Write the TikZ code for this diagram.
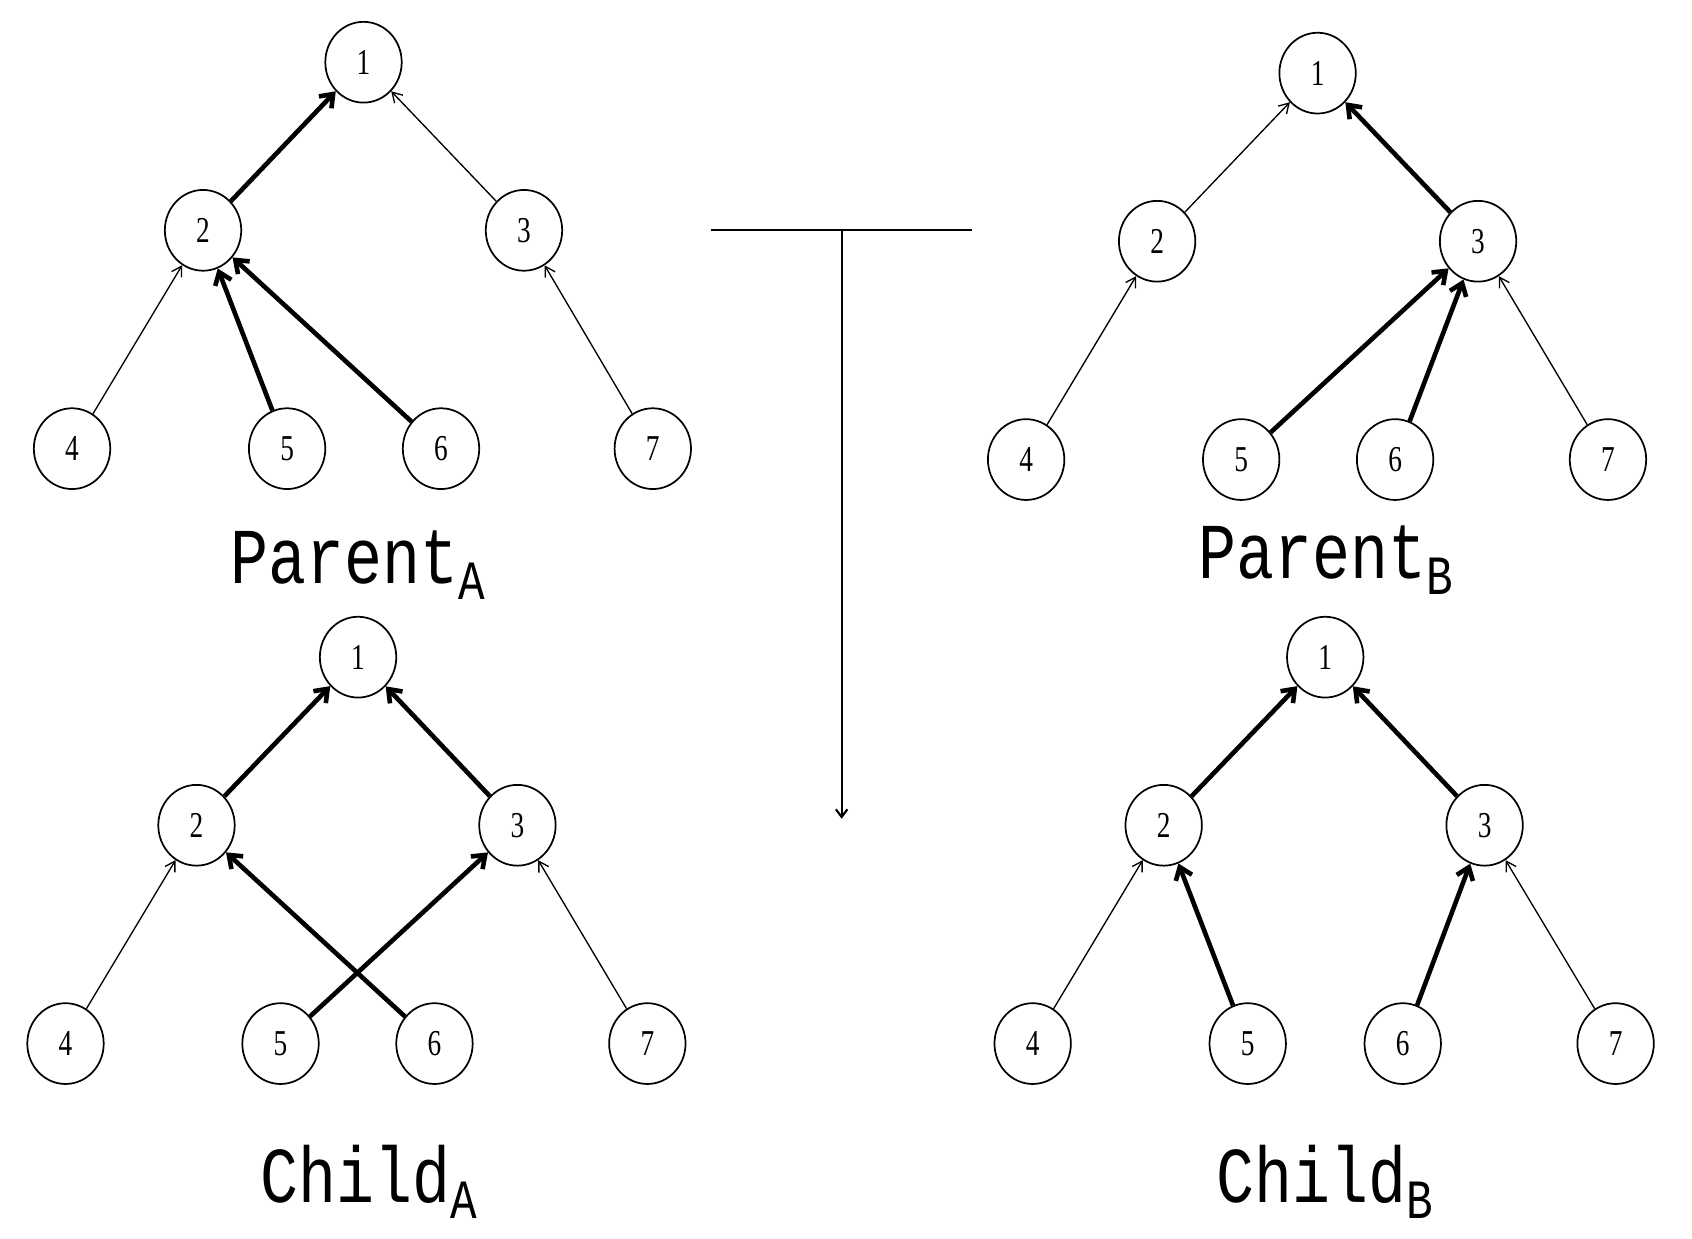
\documentclass[tikz,border=0pt]{standalone}
\usepackage{fontspec}
\setmainfont{Liberation Serif}
\newfontfamily\labfont{Liberation Mono}
\usetikzlibrary{arrows.meta,shapes.geometric}
\begin{document}
\begin{tikzpicture}[x=0.02cm,y=-0.02cm,
  nd/.style={draw,line width=0.9pt,ellipse,minimum width=70*0.02cm,minimum height=74*0.02cm,inner sep=0pt,font=\fontsize{19}{19}\selectfont},
  thinar/.style={line width=0.7pt,-{Straight Barb[length=5pt,width=6pt]}},
  thickar/.style={line width=2.4pt,-{Straight Barb[length=6pt,width=9pt]}},
  lab/.style={font=\labfont\fontsize{33}{33}\selectfont,yscale=1.25}]
\useasboundingbox (0,0) rectangle (1550,1135);
% Parent A
\node[nd] (a1) at (333,57) {\scalebox{0.75}[1]{1}};
\node[nd] (a2) at (186,211) {\scalebox{0.75}[1]{2}};
\node[nd] (a3) at (480,211) {\scalebox{0.75}[1]{3}};
\node[nd] (a4) at (66,411) {\scalebox{0.75}[1]{4}};
\node[nd] (a5) at (263,411) {\scalebox{0.75}[1]{5}};
\node[nd] (a6) at (404,411) {\scalebox{0.75}[1]{6}};
\node[nd] (a7) at (598,411) {\scalebox{0.75}[1]{7}};
\draw[thickar] (a2) -- (a1); \draw[thickar] (a5) -- (a2); \draw[thickar] (a6) -- (a2);
\draw[thinar] (a3) -- (a1); \draw[thinar] (a4) -- (a2); \draw[thinar] (a7) -- (a3);
\node[lab] (la) at (328,518) {Parent\textsubscript{A}};
% Parent B
\node[nd] (b1) at (1207,67) {\scalebox{0.75}[1]{1}};
\node[nd] (b2) at (1060,221) {\scalebox{0.75}[1]{2}};
\node[nd] (b3) at (1354,221) {\scalebox{0.75}[1]{3}};
\node[nd] (b4) at (940,421) {\scalebox{0.75}[1]{4}};
\node[nd] (b5) at (1137,421) {\scalebox{0.75}[1]{5}};
\node[nd] (b6) at (1278,421) {\scalebox{0.75}[1]{6}};
\node[nd] (b7) at (1473,421) {\scalebox{0.75}[1]{7}};
\draw[thickar] (b3) -- (b1); \draw[thickar] (b5) -- (b3); \draw[thickar] (b6) -- (b3);
\draw[thinar] (b2) -- (b1); \draw[thinar] (b4) -- (b2); \draw[thinar] (b7) -- (b3);
\node[lab] (lb) at (1215,513) {Parent\textsubscript{B}};
% Child A
\node[nd] (c1) at (328,602) {\scalebox{0.75}[1]{1}};
\node[nd] (c2) at (180,756) {\scalebox{0.75}[1]{2}};
\node[nd] (c3) at (474,756) {\scalebox{0.75}[1]{3}};
\node[nd] (c4) at (60,956) {\scalebox{0.75}[1]{4}};
\node[nd] (c5) at (257,956) {\scalebox{0.75}[1]{5}};
\node[nd] (c6) at (398,956) {\scalebox{0.75}[1]{6}};
\node[nd] (c7) at (593,956) {\scalebox{0.75}[1]{7}};
\draw[thickar] (c2) -- (c1); \draw[thickar] (c3) -- (c1); \draw[thickar] (c5) -- (c3); \draw[thickar] (c6) -- (c2);
\draw[thinar] (c4) -- (c2); \draw[thinar] (c7) -- (c3);
\node[lab] (lc) at (338,1083) {Child\textsubscript{A}};
% Child B
\node[nd] (d1) at (1214,602) {\scalebox{0.75}[1]{1}};
\node[nd] (d2) at (1066,756) {\scalebox{0.75}[1]{2}};
\node[nd] (d3) at (1360,756) {\scalebox{0.75}[1]{3}};
\node[nd] (d4) at (946,956) {\scalebox{0.75}[1]{4}};
\node[nd] (d5) at (1143,956) {\scalebox{0.75}[1]{5}};
\node[nd] (d6) at (1285,956) {\scalebox{0.75}[1]{6}};
\node[nd] (d7) at (1480,956) {\scalebox{0.75}[1]{7}};
\draw[thickar] (d2) -- (d1); \draw[thickar] (d3) -- (d1); \draw[thickar] (d5) -- (d2); \draw[thickar] (d6) -- (d3);
\draw[thinar] (d4) -- (d2); \draw[thinar] (d7) -- (d3);
\node[lab] (ld) at (1214,1083) {Child\textsubscript{B}};
% T arrow
\coordinate (tl) at (651,211); \coordinate (tr) at (890,211);
\coordinate (tm) at (771,211); \coordinate (tb) at (771,750);
\draw[line width=1.1pt] (tl) -- (tr);
\draw[line width=1.1pt,-{Straight Barb[length=4pt,width=6pt]}] (tm) -- (tb);
\end{tikzpicture}
\end{document}
